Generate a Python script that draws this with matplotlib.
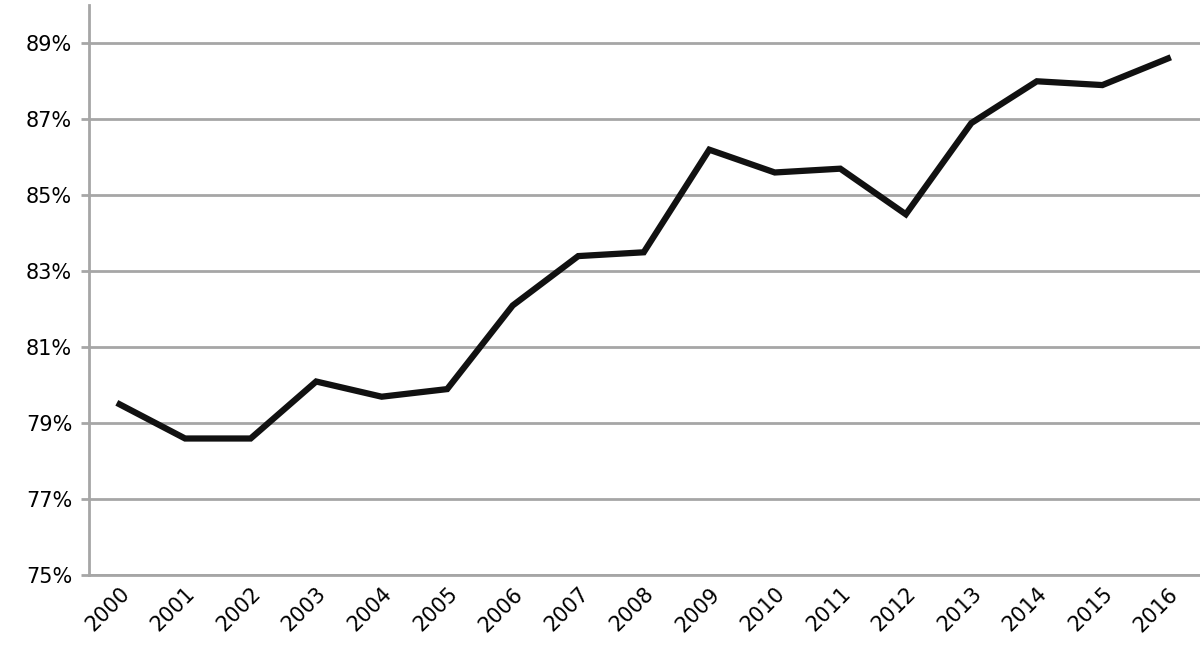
import matplotlib
matplotlib.use('Agg')
import matplotlib.pyplot as plt
from matplotlib.ticker import FuncFormatter

years = [str(y) for y in range(2000, 2017)]
share = [79.5, 78.6, 78.6, 80.1, 79.7, 79.9, 82.1, 83.4, 83.5, 86.2,
         85.6, 85.7, 84.5, 86.9, 88.0, 87.9, 88.6]

fig = plt.figure(figsize=(12, 6.59), dpi=100)
ax = fig.add_axes([0.074, 0.127, 0.926, 0.865])

x = range(len(years))
ax.plot(x, share, color='#111111', lw=4.5, solid_joinstyle='miter', zorder=3)

ax.set_ylim(75, 90)
ax.set_yticks(range(75, 90, 2))
ax.yaxis.set_major_formatter(FuncFormatter(lambda v, p: f'{v:.0f}%'))
ax.set_xlim(-0.47, len(years) - 0.51)
ax.set_xticks(list(x))
ax.set_xticklabels(years, rotation=45, ha='right', rotation_mode='anchor')
ax.grid(axis='y', color='#a6a6a6', lw=2)
ax.set_axisbelow(True)

for s in ['top', 'right']:
    ax.spines[s].set_visible(False)
for s in ['left', 'bottom']:
    ax.spines[s].set_color('#a6a6a6')
    ax.spines[s].set_linewidth(2)
ax.tick_params(axis='both', labelsize=15, length=0, pad=6)
ax.tick_params(axis='y', length=6, color='#a6a6a6', width=2)

fig.savefig('out.png', dpi=100)
